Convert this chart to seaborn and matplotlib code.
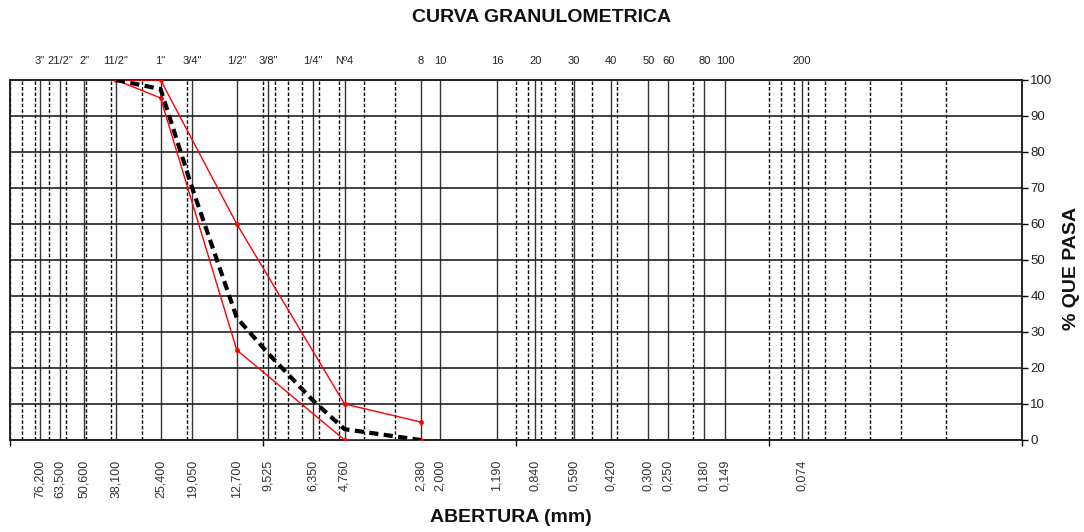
import matplotlib
matplotlib.use("Agg")
import matplotlib.pyplot as plt
import matplotlib.ticker as mticker
import seaborn as sns
import pandas as pd

# ---- data ----
sieve_mm = [76.2, 63.5, 50.8, 38.1, 25.4, 19.05, 12.7, 9.525, 6.35, 4.76,
            2.38, 2.0, 1.19, 0.84, 0.59, 0.42, 0.30, 0.25, 0.18, 0.149, 0.074]
bottom_labels = ["76,200", "63,500", "50,600", "38,100", "25,400", "19,050", "12,700",
                 "9,525", "6,350", "4,760", "2,380", "2,000", "1,190", "0,840", "0,590",
                 "0,420", "0,300", "0,250", "0,180", "0,149", "0,074"]
top_labels = ['3"', '21/2"', '2"', '11/2"', '1"', '3/4"', '1/2"', '3/8"', '1/4"', 'Nº4',
              '8', '10', '16', '20', '30', '40', '50', '60', '80', '100', '200']

upper_x = [38.1, 25.4, 12.7, 4.76, 2.38]
upper_y = [100, 100, 60, 10, 5]
lower_x = [38.1, 25.4, 12.7, 4.76, 2.38]
lower_y = [100, 95, 25, 0, 0]
curve_x = [38.1, 25.4, 19.05, 12.7, 9.525, 6.35, 4.76, 2.38]
curve_y = [100, 97.5, 70, 34, 24, 11, 3, 0]

sns.set_style("white")
plt.rcParams['font.family'] = ['Liberation Sans', 'DejaVu Sans']

fig = plt.figure(figsize=(10.84, 5.32), dpi=100)
ax = fig.add_axes([10/1084, 1-440/532, (1022-10)/1084, 360/532])
ax2 = ax.twiny()

for a in (ax, ax2):
    a.set_xscale("log")
    a.set_xlim(100, 0.01)
ax.set_ylim(0, 100)

# top axis: dashed log grid and sieve labels
ax2.set_zorder(0)
ax.set_zorder(1)
ax.patch.set_visible(False)
ax2.set_xticks(sieve_mm, top_labels)
ax2.xaxis.set_minor_locator(mticker.LogLocator(base=10, subs=range(1, 10), numticks=50))
ax2.xaxis.set_minor_formatter(mticker.NullFormatter())
ax2.tick_params(axis='x', which='both', length=0, labelsize=8, pad=10, labelcolor='#222222')
ax2.grid(False, which='major')
ax2.grid(True, which='minor', axis='x', color='black', linestyle=(0, (2.5, 1.5)), linewidth=1.0)
ax2.set_yticks([])

# primary axis
ax.set_xticks(sieve_mm, bottom_labels, rotation=90)
ax.xaxis.set_minor_locator(mticker.FixedLocator([100, 10, 1, 0.1, 0.01]))
ax.xaxis.set_minor_formatter(mticker.NullFormatter())
ax.tick_params(axis='x', which='major', length=0, labelsize=9, pad=14, labelcolor='#333333')
ax.tick_params(axis='x', which='minor', length=4, width=1, direction='out', color='black')
ax.set_yticks(range(0, 101, 10))
ax.yaxis.tick_right()
ax.tick_params(axis='y', length=4, width=1, direction='out', labelsize=9.5, pad=2,
               color='black', labelcolor='#222222')
ax.grid(True, which='major', axis='x', color='#333333', linewidth=1.0, linestyle='-')
ax.grid(True, which='major', axis='y', color='#222222', linewidth=1.2, linestyle='-')
ax.set_axisbelow(True)

for a in (ax, ax2):
    for s in a.spines.values():
        s.set_color('#222222')
        s.set_linewidth(1.2)

df_up = pd.DataFrame({"x": upper_x, "y": upper_y})
df_lo = pd.DataFrame({"x": lower_x, "y": lower_y})
df_cv = pd.DataFrame({"x": curve_x, "y": curve_y})

sns.lineplot(data=df_up, x="x", y="y", ax=ax, sort=False, estimator=None, color='red',
             linewidth=1.0, marker='o', markersize=3.5, markeredgewidth=0, zorder=3)
sns.lineplot(data=df_lo, x="x", y="y", ax=ax, sort=False, estimator=None, color='red',
             linewidth=1.0, marker='o', markersize=3.5, markeredgewidth=0, zorder=3)
sns.lineplot(data=df_cv, x="x", y="y", ax=ax, sort=False, estimator=None, color='black',
             linewidth=3.0, linestyle=(0, (2.2, 1.3)), zorder=4)
ax.set_xlabel("")
ax.set_ylabel("")
ax2.set_xlabel("")

fig.text(542/1084, 1-17/532, "CURVA GRANULOMETRICA", ha='center', va='center',
         fontsize=14, fontweight='bold', color='#111111')
fig.text(511/1084, 1-518/532, "ABERTURA (mm)", ha='center', va='center',
         fontsize=14, fontweight='bold', color='#111111')
fig.text(1071/1084, 1-268/532, "% QUE PASA", ha='center', va='center', rotation=90,
         fontsize=14, fontweight='bold', color='#111111')

fig.savefig("out.png", dpi=100)
